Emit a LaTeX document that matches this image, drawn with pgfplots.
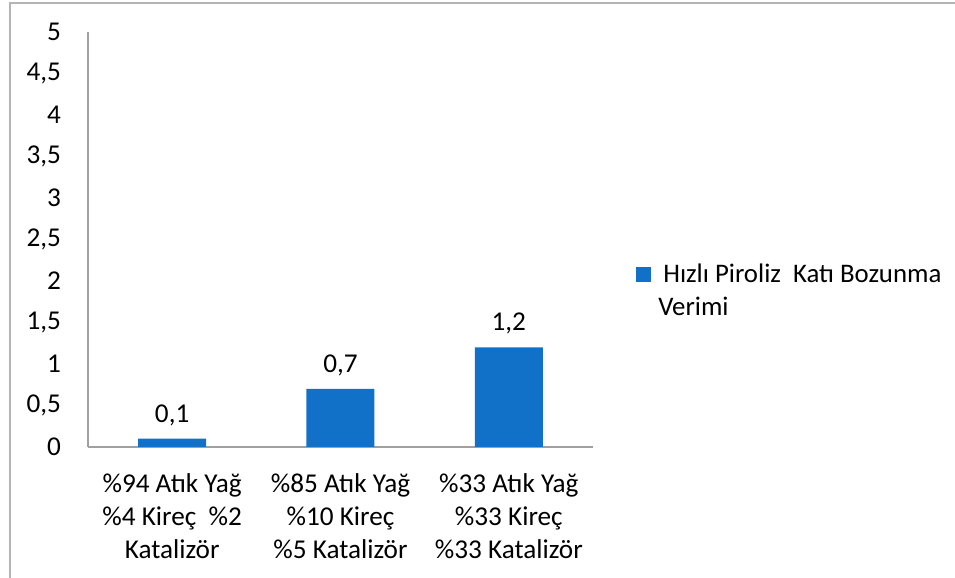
\documentclass[border=0pt]{standalone}
\usepackage{fontspec}
\setmainfont{Carlito}
\usepackage{pgfplots}
\pgfplotsset{compat=1.18}
\definecolor{barblue}{RGB}{17,112,200}
\definecolor{axisgray}{RGB}{160,160,160}
\definecolor{framegray}{RGB}{180,180,180}
\begin{document}
\begin{tikzpicture}
\useasboundingbox (0,0) rectangle (477.5pt,289pt);
\draw[framegray, line width=0.8pt] (5pt,0) -- (5pt,287.5pt) -- (477.5pt,287.5pt);
\begin{axis}[
  at={(44pt,65.5pt)}, anchor=south west,
  scale only axis,
  width=252.5pt, height=207.5pt,
  ybar, bar width=34pt,
  xmin=-0.5, xmax=2.5,
  ymin=0, ymax=5,
  ytick={0,0.5,...,5},
  xtick=data,
  xticklabels={{\%94 Atık Yağ\\\%4 Kireç\ \ \%2\\Katalizör},
               {\%85 Atık Yağ\\\%10 Kireç\\\%5 Katalizör},
               {\%33 Atık Yağ\\\%33 Kireç\\\%33 Katalizör}},
  axis x line*=bottom, axis y line*=left,
  axis line style={axisgray, line width=0.8pt},
  x axis line style={-}, y axis line style={-},
  major tick length=0pt,
  tick style={draw=none},
  /pgf/number format/assume math mode=true,
  /pgf/number format/use comma,
  /pgf/number format/fixed,
  ticklabel style={font=\fontsize{13.6}{16.5}\selectfont},
  yticklabel style={xshift=-10pt},
  xticklabel style={align=center, yshift=-10pt},
  nodes near coords,
  every node near coord/.append style={font=\fontsize{13.6}{16.5}\selectfont, yshift=3pt},
  legend style={draw=none, at={(1.085,0.375)}, anchor=west, inner sep=0pt,
    font=\fontsize{13.4}{16.5}\selectfont, cells={align=left, anchor=west}},
  legend image code/.code={\fill[barblue] (0pt,4.75pt) rectangle (7.5pt,12.25pt);},
]
\addplot[fill=barblue, draw=none] coordinates {(0,0.1) (1,0.7) (2,1.2)};
\addlegendentry{\hspace{4pt}Hızlı Piroliz\ \ Katı Bozunma\\\hspace{1.5pt}Verimi}
\end{axis}
\end{tikzpicture}
\end{document}
